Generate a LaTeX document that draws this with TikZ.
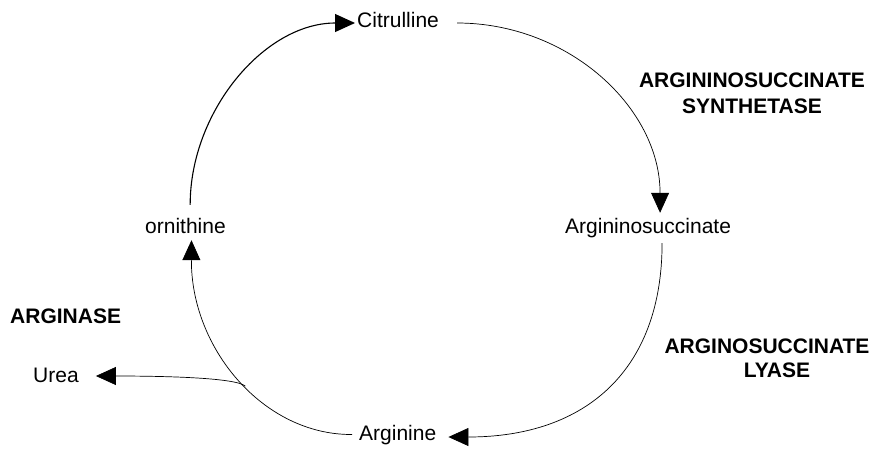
\documentclass[tikz,border=0pt]{standalone}
\usepackage{fontspec}
\setmainfont{Liberation Sans}
\usetikzlibrary{arrows.meta}
\begin{document}
\begin{tikzpicture}[x=1pt,y=-1pt,
  mol/.style={inner sep=0pt, text height=15pt, text depth=4pt, font=\fontsize{21}{25}\selectfont, anchor=base west},
  enz/.style={inner sep=0pt, align=center, anchor=north, font=\bfseries\fontsize{21}{26}\selectfont},
  arr/.style={-{Triangle[length=20pt,width=18pt]}, line width=0.7pt},
]
\useasboundingbox (0,0) rectangle (877,453);

\node[mol] (cit) at (357,27) {Citrulline};
\node[mol] (asc) at (565,233) {Argininosuccinate};
\node[mol] (orn) at (145,233) {ornithine};
\node[mol] (argn) at (359,440) {Arginine};
\node[mol] (urea) at (33,382) {Urea};
\node[enz, anchor=base west] (ase) at (10,323) {ARGINASE};
\node[enz] (ass) at (752,73) {ARGININOSUCCINATE\\SYNTHETASE};
\node[enz, font=\bfseries\fontsize{21}{24}\selectfont] (asl) at (767,339) {ARGINOSUCCINATE\\\hspace*{20pt}LYASE};

% Citrulline -> Argininosuccinate
\draw[arr] ([xshift=18pt,yshift=-1.5pt]cit.east) .. controls (569,23) and (660,108) .. ([xshift=12pt,yshift=5pt]asc.north);
% Argininosuccinate -> Arginine
\draw[arr] ([xshift=14pt,yshift=-6pt]asc.south) .. controls (662,369) and (587,437) .. ([xshift=12pt,yshift=-2.5pt]argn.east);
% Arginine -> ornithine
\draw[arr] ([xshift=-7pt]argn.west) .. controls (263,435) and (191,348) .. coordinate[pos=0.46] (uh) ([xshift=6pt,yshift=-3pt]orn.south);
% ornithine -> Citrulline
\draw[arr, line width=1.1pt] ([xshift=4.7pt,yshift=13pt]orn.north) .. controls (190,112) and (264,23) .. ([xshift=-2pt,yshift=-1.5pt]cit.west);
% Arginine -> Urea
\draw[arr] (uh) .. controls +(-10,-9) and +(60,0) .. ([xshift=17pt,yshift=0.5pt]urea.east);
\end{tikzpicture}
\end{document}
